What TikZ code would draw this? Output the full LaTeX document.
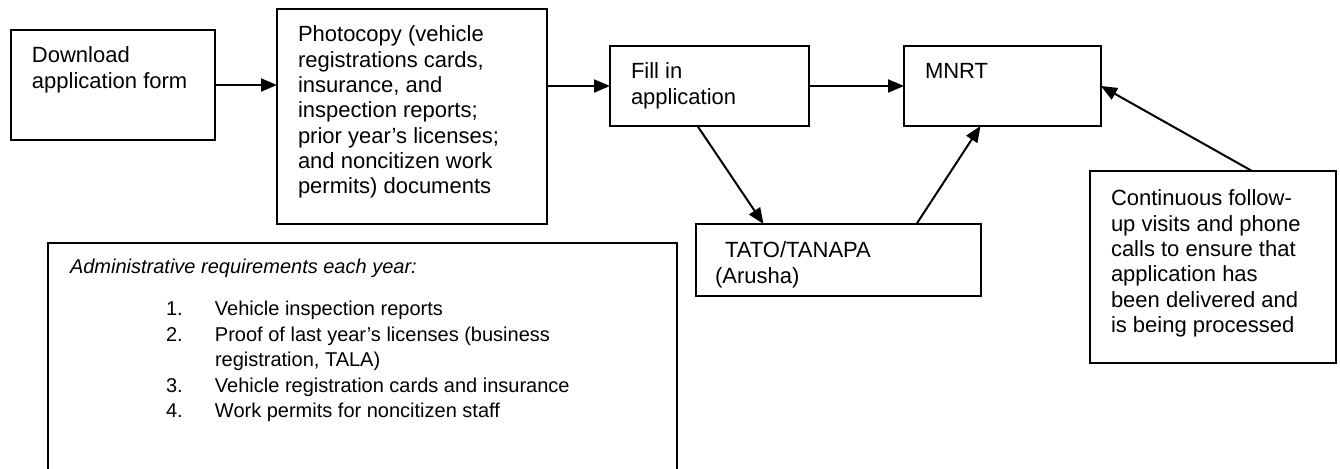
\documentclass[tikz,border=0pt]{standalone}
\usepackage{fontspec}
\setmainfont{Liberation Sans}
\usetikzlibrary{arrows.meta,calc}

\newcommand{\boxtext}[3]{\parbox[c][#2][t]{#1}{\raggedright #3}}
\newcommand{\reqitem}[2]{\hspace*{48pt}\makebox[24.5pt][l]{#1}#2}

\begin{document}
\begin{tikzpicture}[x=0.5pt, y=-0.5pt,
    stepbox/.style={draw, line width=1pt, anchor=north west, inner xsep=10.5pt,
      inner ysep=8.5pt, outer sep=0pt, font=\fontsize{11}{12.65}\selectfont},
    flow/.style={line width=1pt, -{Triangle[length=8pt,width=6.5pt]}}]
  \useasboundingbox (0,0) rectangle (1340,468);
  \clip (0,0) rectangle (1340,468);

  % steps
  \node[stepbox] (download) at (11,30) {\boxtext{81pt}{38pt}{Download\\application form}};
  \node[stepbox] (copy) at (277,9) {\boxtext{114pt}{90.5pt}{Photocopy (vehicle\\registrations cards,\\insurance, and\\inspection reports;\\prior year’s licenses;\\and noncitizen work\\permits) documents}};
  \node[stepbox] (fill) at (610,46) {\boxtext{78.5pt}{23pt}{Fill in\\application}};
  \node[stepbox] (mnrt) at (904,46) {\boxtext{77.5pt}{23pt}{MNRT}};
  \node[stepbox, inner xsep=9.5pt, inner ysep=9pt] (tato) at (696,224) {\boxtext{123.5pt}{18pt}{\hspace*{5pt}TATO/TANAPA\\(Arusha)}};
  \node[stepbox, inner ysep=9.5pt] (follow) at (1090,171) {\boxtext{102pt}{77pt}{Continuous follow-\\up visits and phone\\calls to ensure that\\application has\\been delivered and\\is being processed}};
  \node[stepbox, inner xsep=11pt, inner ysep=8pt, font=\fontsize{10}{12.75}\selectfont] (admin) at (48,243)
    {\boxtext{292.5pt}{107.5pt}{\textit{Administrative requirements each year:}\\[8.25pt]
      \reqitem{1.}{Vehicle inspection reports}\\
      \reqitem{2.}{Proof of last year’s licenses (business}\\
      \hspace*{72.5pt}registration, TALA)\\
      \reqitem{3.}{Vehicle registration cards and insurance}\\
      \reqitem{4.}{Work permits for noncitizen staff}}};

  % connectors
  \draw[flow] (download.east) -- (download.east -| copy.west);
  \draw[flow] (copy.east |- fill.west) -- (fill.west);
  \draw[flow] (fill.east) -- (mnrt.west);
  \draw[flow] ($(fill.south)+(-12,0)$) -- ($(tato.north)+(-75,0)$);
  \draw[flow] ($(tato.north)+(78,0)$) -- ($(mnrt.south)+(-22,0)$);
  \draw[flow] ($(follow.north)+(39,0)$) -- (mnrt.east);
\end{tikzpicture}
\end{document}
